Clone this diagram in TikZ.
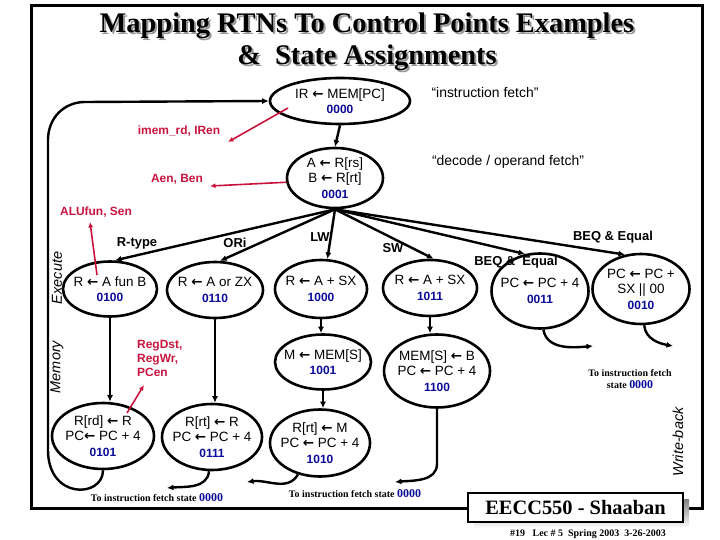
\documentclass[tikz,border=0pt]{standalone}
\usepackage{fontspec}
\setmainfont{Liberation Serif}
\setsansfont{Liberation Sans}
\newfontfamily\arrowfont{DejaVu Sans}
\usetikzlibrary{shapes.geometric,arrows.meta}
\definecolor{ctrlred}{HTML}{C8143C}
\definecolor{numblue}{HTML}{0A0A9A}
\definecolor{shade}{HTML}{9A9A9A}
\newcommand{\lar}{{\arrowfont\bfseries ←}}
\newcommand{\stnum}[1]{\textcolor{numblue}{\bfseries\fontsize{12}{15.5}\selectfont #1}}

\begin{document}
\begin{tikzpicture}
  [x=1bp,y=-1bp,
   every node/.style={font=\sffamily\fontsize{13.5}{15.5}\selectfont,align=center,inner sep=0pt},
   stnode/.style={ellipse,draw,line width=2.6bp,inner sep=-10bp},
   go/.style={-{Latex[length=6.5bp,width=6bp]},line width=2.4bp},
   sig/.style={-{Latex[length=5.5bp,width=5bp]},line width=1.6bp,draw=ctrlred},
   ctrl/.style={text=ctrlred,font=\sffamily\bfseries\fontsize{12}{14}\selectfont},
   branch/.style={font=\sffamily\bfseries\fontsize{13}{15}\selectfont},
   back/.style={font=\rmfamily\bfseries\fontsize{10}{12}\selectfont},
   phase/.style={rotate=90,font=\sffamily\itshape\fontsize{14.5}{16}\selectfont}]
  \useasboundingbox (0,0) rectangle (720,540);
  \draw[line width=3bp] (31,6) rectangle (702,508);

  % title with its shadow
  \node[font=\rmfamily\bfseries\fontsize{28.5}{32}\selectfont,text=shade] (titleshade) at (369,44)
    {Mapping RTNs To Control Points Examples\\\&\ \ State Assignments};
  \node[font=\rmfamily\bfseries\fontsize{28.5}{32}\selectfont] (title) at (367,42)
    {Mapping RTNs To Control Points Examples\\\&\ \ State Assignments};

  % states
  \node[stnode,minimum width=140bp,minimum height=46bp] (s0000) at (340,101) {IR \lar{} MEM[PC]\\\stnum{0000}};
  \node[stnode,minimum width=96bp,minimum height=60bp] (s0001) at (335,178) {A \lar{} R[rs]\\B \lar{} R[rt]\\\stnum{0001}};
  \node[stnode,minimum width=94bp,minimum height=55bp] (s0100) at (110,289) {R \lar{} A fun B\\\stnum{0100}};
  \node[stnode,minimum width=96bp,minimum height=56bp] (s0110) at (215,290) {R \lar{} A or ZX\\\stnum{0110}};
  \node[stnode,minimum width=92bp,minimum height=58bp] (s1000) at (321,289) {R \lar{} A + SX\\\stnum{1000}};
  \node[stnode,minimum width=94bp,minimum height=56bp] (s1011) at (430,288) {R \lar{} A + SX\\\stnum{1011}};
  \node[stnode,minimum width=97bp,minimum height=75bp] (s0011) at (540,291) {PC \lar{} PC + 4\\\stnum{0011}};
  \node[stnode,minimum width=97bp,minimum height=70bp] (s0010) at (641,289) {PC \lar{} PC +\\SX || 00\\\stnum{0010}};
  \node[stnode,minimum width=96bp,minimum height=55bp] (s1001) at (323,362) {M \lar{} MEM[S]\\\stnum{1001}};
  \node[stnode,minimum width=106bp,minimum height=73bp] (s1100) at (437,371) {MEM[S] \lar{} B\\PC \lar{} PC + 4\\\stnum{1100}};
  \node[stnode,minimum width=102bp,minimum height=66bp] (s0101) at (103,436) {R[rd] \lar{} R\\PC\lar{} PC + 4\\\stnum{0101}};
  \node[stnode,minimum width=100bp,minimum height=66bp] (s0111) at (212,437) {R[rt] \lar{} R\\PC \lar{} PC + 4\\\stnum{0111}};
  \node[stnode,minimum width=100bp,minimum height=67bp] (s1010) at (320,443) {R[rt] \lar{} M\\PC \lar{} PC + 4\\\stnum{1010}};

  \node[font=\sffamily\fontsize{14}{16}\selectfont] (ifetch) at (485,93) {“instruction fetch”};
  \node[font=\sffamily\fontsize{14}{16}\selectfont] (decode) at (508,162) {“decode / operand fetch”};

  % branch labels
  \node[branch] (rtype) at (137,243) {R-type};
  \node[branch] (ori) at (235,243) {ORi};
  \node[branch] (lw) at (320,237) {LW};
  \node[branch] (sw) at (393,248) {SW};
  \node[branch] (beqne) at (516,262) {BEQ \&\ \ Equal};
  \node[branch] (beqeq) at (613,237) {BEQ \& Equal};

  % control signals
  \node[ctrl] (imem) at (179,131) {imem\_rd, IRen};
  \node[ctrl] (aenben) at (177,179) {Aen, Ben};
  \node[ctrl] (alufun) at (96,212) {ALUfun, Sen};
  \node[ctrl,align=left,anchor=west] (regwr) at (137,358) {RegDst,\\RegWr,\\PCen};

  \coordinate (imemfrom) at (288,108);
  \coordinate (imemto) at (228,142);
  \coordinate (aento) at (210,186);
  \coordinate (alufrom) at (97,275);
  \coordinate (aluto) at (90,222);
  \coordinate (regfrom) at (127,413);
  \coordinate (regto) at (144,385);
  \draw[sig] (imemfrom) -- (imemto);
  \draw[sig] (s0001.185) -- (aento);
  \draw[sig] (alufrom) -- (aluto);
  \draw[sig] (regfrom) -- (regto);

  % next state arcs
  \draw[go] (s0000.south) -- (s0001.north);
  \foreach \to in {s0100.80,s0110.80,s1000.78,s1011.83,s0011.112,s0010.115}
    \draw[go] (s0001.south) -- (\to);
  \foreach \from/\to in {s0100/s0101,s0110/s0111,s1000/s1001,s1001/s1010,s1011/s1100}
    \draw[go] (\from.south) -- (\from.south |- \to.north);

  % back to instruction fetch
  \coordinate (r0111) at (167,488);
  \coordinate (r1010) at (247,482);
  \coordinate (r1100) at (395,482);
  \coordinate (r0011) at (593,346);
  \coordinate (r0010) at (673,346);
  \draw[go] (s0111.265) to[out=-95,in=5] (r0111);
  \draw[go] (s1010.235) to[out=-120,in=8] (r1010);
  \draw[go] (s1100.south) -- ++(0,55) to[out=-90,in=5] (r1100);
  \draw[go] (s0011.275) to[out=-80,in=185] (r0011);
  \draw[go] (s0010.275) to[out=-85,in=170] (r0010);
  \draw[go] (s0101.south) .. controls (103,498) and (48,500) .. (48,450)
    -- (48,140) .. controls (48,118) and (64,102) .. (85,102) -- (s0000.west);

  \node[back] (tofetcha) at (157,498) {To instruction fetch state \stnum{0000}};
  \node[back] (tofetchb) at (355,494) {To instruction fetch state \stnum{0000}};
  \node[back] (tofetchc) at (630,379) {To instruction fetch\\state \stnum{0000}};

  % pipeline phases
  \node[phase] (execute) at (57,278) {Execute};
  \node[phase] (memory) at (57,367) {Memory};
  \node[phase] (writeback) at (678,442) {Write-back};

  % footer
  \fill[shade] (474,499) rectangle (689,528);
  \draw[line width=1.6bp,fill=white] (468,493) rectangle (683,522);
  \node[font=\rmfamily\bfseries\fontsize{20.5}{24}\selectfont] (course) at (575.5,507.5) {EECC550 - Shaaban};
  \node[font=\rmfamily\bfseries\fontsize{10}{12}\selectfont] (slide) at (588,534) {\#19\ \ \ Lec \# 5\ \ Spring 2003\ \ 3-26-2003};
\end{tikzpicture}
\end{document}
